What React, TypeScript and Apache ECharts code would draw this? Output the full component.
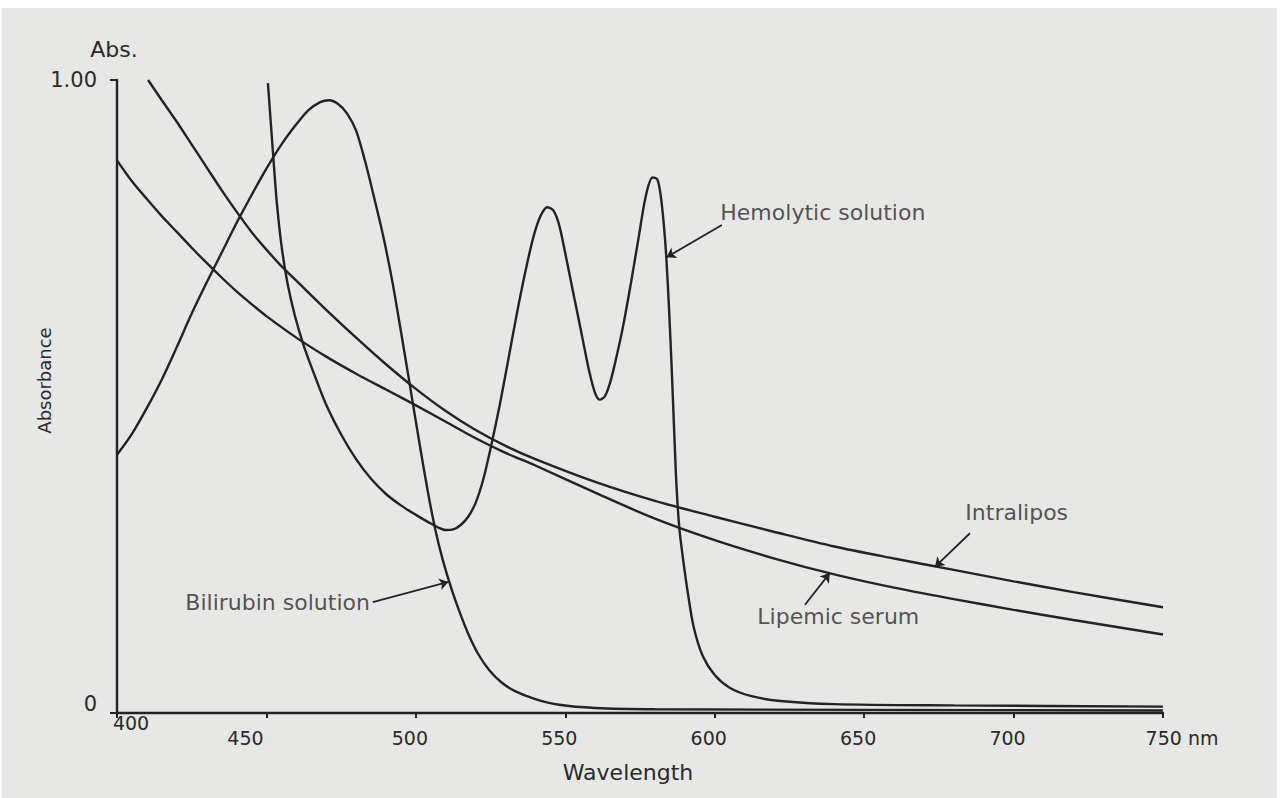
import React, { useEffect, useRef } from 'react';
import * as echarts from 'echarts';

// ---- data (wavelength nm, absorbance) ----
const hemolytic: [number, number][] = [
  [450.5, 0.995], [451.5, 0.93], [452.5, 0.865], [453.5, 0.805], [455, 0.74], [457, 0.68],
  [459.5, 0.628], [462.5, 0.58], [466, 0.535], [470, 0.487], [475, 0.44], [480, 0.401],
  [485, 0.37], [490, 0.346], [495, 0.328], [500, 0.313], [504, 0.302], [507.5, 0.293],
  [510, 0.289], [512.5, 0.29], [515, 0.297], [517.5, 0.31], [520, 0.332], [522.5, 0.368],
  [525, 0.418], [528, 0.485], [531, 0.56], [534, 0.636], [537, 0.705], [539.5, 0.755],
  [541.8, 0.786], [544, 0.799], [546, 0.794], [548, 0.77], [550.6, 0.712], [553, 0.656],
  [555.5, 0.598], [558, 0.54], [560, 0.505], [561.6, 0.495], [563.2, 0.5], [565, 0.522],
  [567, 0.56], [569.3, 0.61], [572, 0.68], [574.5, 0.75], [577, 0.818], [579.2, 0.846],
  [580.8, 0.843], [582, 0.815], [583, 0.77], [583.8, 0.72], [584.7, 0.64], [585.6, 0.545],
  [586.4, 0.45], [587.2, 0.36], [588.2, 0.29], [589.5, 0.24], [591, 0.19], [593, 0.135],
  [596, 0.09], [600, 0.06], [605, 0.04], [612, 0.027], [622, 0.019], [640, 0.014],
  [680, 0.012], [750, 0.01],
];

const bilirubin: [number, number][] = [
  [400, 0.408], [405, 0.441], [410, 0.482], [415, 0.527], [420, 0.578], [425, 0.631],
  [430, 0.68], [435, 0.727], [440, 0.774], [445, 0.818], [450, 0.86], [455, 0.898],
  [460, 0.93], [464, 0.952], [468, 0.965], [471, 0.968], [474, 0.962], [477, 0.947],
  [480, 0.92], [483, 0.872], [486, 0.815], [489, 0.755], [492, 0.685], [495, 0.603],
  [498, 0.518], [501, 0.432], [504, 0.35], [506.5, 0.29], [509, 0.242], [512, 0.195],
  [515, 0.155], [518, 0.12], [521, 0.092], [524.5, 0.068], [528.5, 0.049], [533, 0.035],
  [540, 0.022], [548, 0.013], [560, 0.008], [580, 0.006], [650, 0.005], [750, 0.004],
];

const intralipos: [number, number][] = [
  [410.4, 1.0], [415, 0.968], [420, 0.934], [425, 0.898], [430, 0.862], [435, 0.826],
  [440, 0.792], [445, 0.76], [450, 0.732], [455, 0.706], [460, 0.683], [470, 0.637],
  [480, 0.593], [490, 0.551], [500, 0.512], [510, 0.477], [520, 0.447], [530, 0.422],
  [540, 0.401], [560, 0.365], [580, 0.335], [600, 0.31], [620, 0.286], [640, 0.263],
  [660, 0.244], [680, 0.226], [700, 0.208], [720, 0.191], [750, 0.167],
];

const lipemic: [number, number][] = [
  [400, 0.873], [405, 0.84], [410, 0.812], [415, 0.785], [420, 0.76], [425, 0.735],
  [430, 0.711], [435, 0.688], [440, 0.666], [445, 0.646], [450, 0.627], [460, 0.593],
  [470, 0.563], [480, 0.536], [490, 0.511], [500, 0.486], [510, 0.46], [520, 0.434],
  [530, 0.411], [540, 0.391], [560, 0.348], [580, 0.307], [600, 0.273], [620, 0.244],
  [640, 0.219], [660, 0.198], [680, 0.18], [700, 0.163], [720, 0.147], [750, 0.124],
];

// annotation labels: text anchor (left, middle) and arrow from -> to, in data units
const labelNames = ['Hemolytic solution', 'Intralipos', 'Lipemic serum', 'Bilirubin solution'];
const labelAnchors: [number, number][] = [[601.7, 0.79], [683.7, 0.316], [614.1, 0.152], [422.7, 0.175]];
const arrowFrom: [number, number][] = [[602.4, 0.771], [685.4, 0.284], [630.2, 0.171], [485.6, 0.175]];
const arrowTo: [number, number][] = [[583.9, 0.72], [673.7, 0.231], [638.5, 0.221], [510.9, 0.207]];

const xTicks = [400, 450, 500, 550, 600, 650, 700, 750];
const yTickLabels: Record<number, string> = { 0: '0', 1: '1.00' };

const LINE = '#232323';
const TEXT = '#2a2a2a';
const FONT = 'DejaVu Sans';

function curve(name: string, data: [number, number][], idx: number) {
  return {
    type: 'line',
    name,
    data,
    symbol: 'none',
    showSymbol: false,
    smooth: 0.3,
    lineStyle: { color: LINE, width: 2.4 },
    silent: true,
    markLine: {
      silent: true,
      symbol: ['none', 'arrow'],
      symbolSize: 9,
      label: { show: false },
      lineStyle: { color: LINE, width: 1.8, type: 'solid' },
      data: [[{ coord: arrowFrom[idx] }, { coord: arrowTo[idx] }]],
    },
  };
}

export default function App() {
  const ref = useRef<HTMLDivElement>(null);
  useEffect(() => {
    document.body.style.margin = '0';
    const chart = echarts.init(ref.current!, null, { renderer: 'svg' });
    const option: any = {
      animation: false,
      backgroundColor: 'transparent',
      textStyle: { fontFamily: FONT, color: TEXT },
      grid: { left: 117, right: 118, top: 80, bottom: 85, containLabel: false },
      xAxis: [
        {
          type: 'value',
          min: 400,
          max: 750,
          interval: 50,
          position: 'bottom',
          name: 'Wavelength',
          nameLocation: 'middle',
          nameGap: 48,
          nameTextStyle: { fontFamily: FONT, fontSize: 22, color: TEXT, padding: [0, 24, 0, 0] },
          axisLine: { show: true, lineStyle: { color: LINE, width: 2.4 } },
          axisTick: { show: true, inside: false, length: 5, lineStyle: { color: LINE, width: 2 } },
          splitLine: { show: false },
          axisLabel: {
            margin: 15,
            fontFamily: FONT,
            fontSize: 19,
            color: TEXT,
            formatter: (v: number) => {
              if (v === 400) return '';
              if (v === 450) return '{l|450}';
              if (v === 750) return '{r|750 nm}';
              return xTicks.includes(v) ? '{n|' + v + '}' : '';
            },
            rich: {
              n: { fontFamily: FONT, fontSize: 19, color: TEXT, padding: [0, 12, 0, 0] },
              l: { fontFamily: FONT, fontSize: 19, color: TEXT, padding: [0, 42, 0, 0] },
              r: { fontFamily: FONT, fontSize: 19, color: TEXT, padding: [0, 0, 0, 38] },
            },
          },
        },
        {
          type: 'value',
          min: 400,
          max: 750,
          interval: 50,
          position: 'bottom',
          axisLine: { show: false },
          axisTick: { show: false },
          splitLine: { show: false },
          axisLabel: {
            margin: 0,
            formatter: (v: number) => (v === 400 ? '{a|400}' : ''),
            rich: { a: { fontFamily: FONT, fontSize: 19, color: TEXT, padding: [0, 0, 0, 28] } },
          },
        },
      ],
      yAxis: [
        {
          type: 'value',
          min: 0,
          max: 1,
          interval: 1,
          name: 'Abs.',
          nameLocation: 'end',
          nameGap: 20,
          nameTextStyle: { fontFamily: FONT, fontSize: 22, color: TEXT, padding: [0, 6, 0, 0] },
          axisLine: { show: true, lineStyle: { color: LINE, width: 2.4 } },
          axisTick: { show: true, inside: false, length: 7, lineStyle: { color: LINE, width: 2 } },
          splitLine: { show: false },
          axisLabel: {
            margin: 20,
            fontFamily: FONT,
            fontSize: 21,
            color: TEXT,
            formatter: (v: number) => (v === 0 ? '{z|' + yTickLabels[0] + '}' : yTickLabels[v] ?? ''),
            rich: { z: { fontFamily: FONT, fontSize: 21, color: TEXT, padding: [0, 0, 18, 0] } },
          },
        },
        {
          type: 'value',
          min: 0,
          max: 1,
          interval: 1,
          position: 'left',
          name: 'Absorbance',
          nameLocation: 'middle',
          nameRotate: 90,
          nameGap: 64,
          nameTextStyle: { fontFamily: FONT, fontSize: 18, color: TEXT, padding: [0, 0, 0, 32] },
          axisLine: { show: false },
          axisTick: { show: false },
          axisLabel: { show: false },
          splitLine: { show: false },
        },
      ],
      series: [
        curve('Hemolytic solution', hemolytic, 0),
        curve('Intralipos', intralipos, 1),
        curve('Lipemic serum', lipemic, 2),
        curve('Bilirubin solution', bilirubin, 3),
        {
          type: 'scatter',
          name: 'labels',
          symbolSize: 1,
          itemStyle: { color: 'rgba(0,0,0,0)' },
          silent: true,
          clip: false,
          data: labelNames.map((n, i) => ({ name: n, value: labelAnchors[i] })),
          label: {
            show: true,
            position: 'right',
            distance: 0,
            formatter: '{b}',
            fontFamily: FONT,
            fontSize: 22,
            color: TEXT,
          },
        },
      ],
    };
    chart.setOption(option);
    return () => chart.dispose();
  }, []);
  return (
    <div style={{ position: 'fixed', left: 0, top: 0, width: 1281, height: 798, background: '#ffffff' }}>
      <div style={{ position: 'absolute', left: 2, top: 8, right: 4, bottom: 0, background: '#e7e7e5' }} />
      <div ref={ref} style={{ position: 'absolute', left: 0, top: 0, width: 1281, height: 798 }} />
    </div>
  );
}
